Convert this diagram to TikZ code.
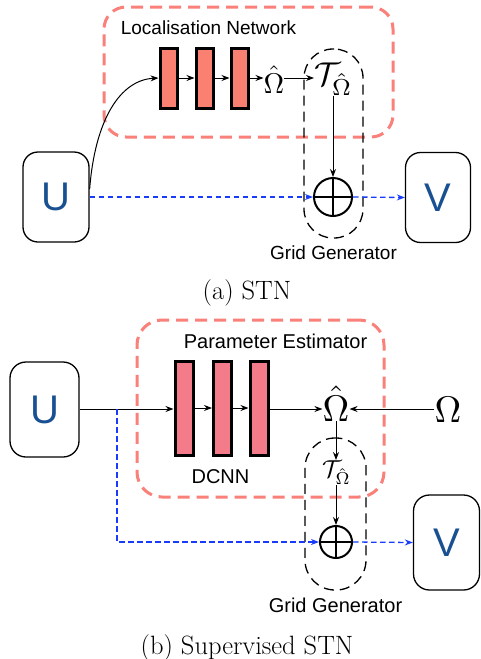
\RequirePackage{fix-cm}
\documentclass[tikz,border=0pt]{standalone}
\usepackage{fontspec}
\newfontfamily\hv{Liberation Sans}
\usetikzlibrary{arrows.meta,calc}
\definecolor{boxred}{RGB}{250,128,122}
\definecolor{topfill}{RGB}{250,128,114}
\definecolor{botfill}{RGB}{244,124,138}
\definecolor{letterblue}{RGB}{25,80,145}
\definecolor{dblue}{RGB}{25,60,250}
\begin{document}
\begin{tikzpicture}[x=1pt,y=-1pt,
  arr/.style={-{Stealth[length=8pt,width=6pt]}, line width=1pt},
  bdash/.style={-{Stealth[length=8pt,width=6pt]}, line width=1.3pt, dblue, dash pattern=on 5.5pt off 3.5pt},
  ubox/.style={draw, line width=1.3pt, rounded corners=15pt, inner sep=0pt, text=letterblue, font=\hv\fontsize{40}{44}\selectfont},
  blk/.style={draw, line width=3pt, inner sep=0pt},
  redbox/.style={draw=boxred, line width=3pt, dash pattern=on 12pt off 7pt, inner sep=0pt},
  gridbox/.style={draw, line width=1.3pt, dash pattern=on 10pt off 6pt, inner sep=0pt},
  lbl/.style={font=\hv\fontsize{19}{22}\selectfont, inner sep=0pt},
  lblb/.style={font=\hv\fontsize{20}{23}\selectfont, inner sep=0pt},
  capt/.style={font=\fontsize{26.5}{30}\selectfont, inner sep=0pt},
  mth/.style={inner sep=0pt},
  plus/.style={draw, circle, line width=2pt, inner sep=0pt,
    path picture={\draw[line width=2pt] (path picture bounding box.north) -- (path picture bounding box.south)
      (path picture bounding box.west) -- (path picture bounding box.east);}}
]
\useasboundingbox (0,0) rectangle (481,659);

% ---------------- (a) STN ----------------
\node[redbox, rounded corners=22pt, minimum width=289pt, minimum height=130pt] (L1) at (248.5,72) {};
\node[lbl] (l1) at (208.5,28) {Localisation Network};
\node[gridbox, rounded corners=29pt, minimum width=59pt, minimum height=189pt] (G1) at (333.5,143.5) {};
\node[lbl] (g1) at (333.5,253) {Grid Generator};

\node[ubox, minimum width=66pt, minimum height=90pt] (U1) at (56,197) {U};
\node[ubox, minimum width=65pt, minimum height=90pt] (V1) at (438,197.5) {V};

\node[blk, fill=topfill, minimum width=17pt, minimum height=60pt] (a1) at (168.5,78) {};
\node[blk, fill=topfill, minimum width=17pt, minimum height=60pt] (a2) at (204.5,78) {};
\node[blk, fill=topfill, minimum width=17pt, minimum height=60pt] (a3) at (239.5,78) {};

\node[mth, anchor=base] (om1) at (274,93) {\scalebox{2.85}{$\hat\Omega$}};
\node[mth, anchor=base west] (T1) at (314,85) {\scalebox{3.3}{$\mathcal{T}_{\hat\Omega}$}};
\node[plus, minimum size=38pt] (c1) at (333,197) {};

\draw[arr] ([yshift=8pt]U1.east) .. controls (95,120) and (120,80) .. (a1.west);
\draw[arr] (a1.east) -- (a2.west);
\draw[arr] (a2.east) -- (a3.west);
\draw[arr] (a3.east) -- (a3.east -| om1.west);
\draw[arr] (om1.east |- a3.east) -- (T1.west |- a3.east);
\draw[arr] (c1.north |- T1.south) -- (c1.north);
\draw[bdash] (U1.east) -- (c1.west);
\draw[bdash] (c1.east) -- (V1.west);

\node[capt] (ca) at (247,293) {(a) STN};

% ---------------- (b) Supervised STN ----------------
\node[redbox, rounded corners=25pt, minimum width=247pt, minimum height=177pt] (L2) at (260.5,408.5) {};
\node[lblb] (l2) at (275.5,341) {Parameter Estimator};
\node[gridbox, rounded corners=30pt, minimum width=61pt, minimum height=152pt] (G2) at (335.5,514) {};
\node[lblb] (g2) at (335.5,605) {Grid Generator};
\node[lblb] (d2) at (220.5,477) {DCNN};

\node[ubox, rounded corners=16pt, minimum width=69pt, minimum height=95pt] (U2) at (44.5,409.5) {U};
\node[ubox, rounded corners=16pt, minimum width=66pt, minimum height=95pt] (V2) at (446.5,542.5) {V};

\node[blk, fill=botfill, minimum width=18pt, minimum height=94pt] (b1) at (184,408) {};
\node[blk, fill=botfill, minimum width=18pt, minimum height=94pt] (b2) at (222.5,408) {};
\node[blk, fill=botfill, minimum width=18pt, minimum height=94pt] (b3) at (259,408) {};

\node[mth, anchor=base] (om2) at (336,421) {\scalebox{3.7}{$\hat\Omega$}};
\node[mth, anchor=base] (om3) at (448,422) {\scalebox{3.7}{$\Omega$}};
\node[mth, anchor=base west] (T2) at (322,477) {\scalebox{2.45}{$\mathcal{T}_{\hat\Omega}$}};
\node[plus, minimum size=32pt] (c2) at (336,542) {};

\coordinate (j) at (117,409);
\draw[line width=1pt] (U2.east |- j) -- (j);
\draw[arr] (j) -- (b1.west |- j);
\draw[arr] (b1.east) -- (b2.west);
\draw[arr] (b2.east) -- (b3.west);
\draw[arr] (b3.east |- j) -- (om2.west |- j);
\draw[arr] (om3.west |- j) -- (om2.east |- j);
\draw[arr] (om2.south) -- (om2.south |- T2.north);
\draw[arr] (c2.north |- T2.south) -- (c2.north);
\draw[bdash] (j) |- (c2.west);
\draw[bdash] (c2.east) -- (V2.west);

\node[capt] (cb) at (247,648) {(b) Supervised STN};
\end{tikzpicture}
\end{document}
